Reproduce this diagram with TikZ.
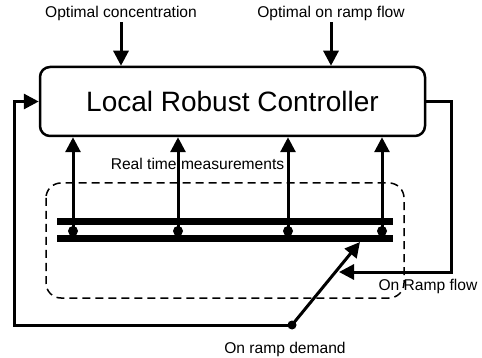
\documentclass[tikz,border=0pt]{standalone}
\usepackage{fontspec}
\setmainfont{Liberation Sans}
\usetikzlibrary{
  calc,positioning,
  arrows,arrows.meta
}

\begin{document}
\begin{tikzpicture}[x=1pt,y=-1pt,
  ctrlbox/.style={draw,line width=2.5pt,rounded corners=10pt,minimum width=385pt,minimum height=69pt,inner sep=0pt,font=\fontsize{28}{32}\selectfont},
  lbl/.style={inner sep=2pt,font=\fontsize{15.6}{18}\selectfont},
  sig/.style={line width=3pt,-{Triangle[length=15pt,width=15pt]}},
  rail/.style={line width=7.5pt},
  tap/.style={circle,fill,inner sep=0pt,minimum size=10pt}
]
\useasboundingbox (0,0) rectangle (482,358);

% controller and its set points
\node[ctrlbox] (ctrl) at (232.5,101.5) {Local Robust Controller};
\node[lbl] (conc) at (121,13) {Optimal concentration};
\node[lbl] (flow) at (331,13) {Optimal on ramp flow};
\draw[sig] (conc.south) -- (conc.south |- ctrl.north);
\draw[sig] (flow.south) -- (flow.south |- ctrl.north);

% freeway section
\draw[dash pattern=on 8pt off 5pt,line width=1.5pt,rounded corners=15pt] (46,183) rectangle (404,298);
\node[lbl,inner sep=0pt] (meas) at (197.5,164) {Real time measurements};
\draw[rail] (57,221.5) -- (393,221.5);
\draw[rail] (57,238.5) -- (393,238.5);
\node[tap] (m1) at (73,231) {};
\node[tap] (m2) at (178,231) {};
\node[tap] (m3) at (288,231) {};
\node[tap] (m4) at (382,231) {};
\foreach \i in {1,...,4}
  \draw[sig] (m\i.center) -- (m\i.center |- ctrl.south);

% on ramp
\node[tap,minimum size=9pt] (dem) at (292,325) {};
\node[lbl] (demlbl) at (285,349) {On ramp demand};
\coordinate (merge) at (360,242);
\draw[sig] (dem.center) -- (merge);
\draw[sig] (dem.center) -- (14,325) |- (ctrl.west);

% ramp flow feedback
\node[lbl] (rflbl) at (428,286) {On Ramp flow};
\coordinate (rampin) at (339,272);
\draw[sig] (ctrl.east) -| (451,272) -- (rampin);
\end{tikzpicture}
\end{document}
